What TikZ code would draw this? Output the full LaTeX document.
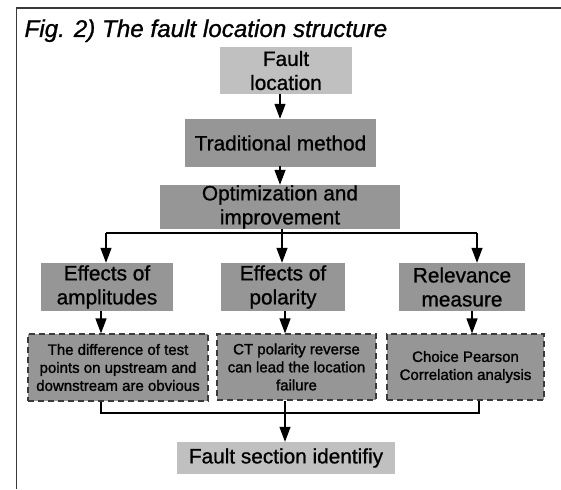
\documentclass[tikz,border=0pt]{standalone}
\usepackage{fontspec}
\setmainfont{Liberation Sans}[FakeBold=0.9]
\newfontfamily\dashfont{Liberation Sans}[FakeBold=1.4]
\newfontfamily\titlefont{Liberation Sans}[FakeBold=1.0]
\usetikzlibrary{arrows.meta}
\definecolor{lgray}{HTML}{C0C0C0}
\definecolor{dgray}{HTML}{969696}
\definecolor{bord}{HTML}{3A3A3A}
\begin{document}
\begin{tikzpicture}[x=1pt,y=-1pt,
  box/.style={rectangle,inner sep=0pt,align=center,font=\fontsize{20.8}{24}\selectfont},
  lbox/.style={box,fill=lgray},
  dbox/.style={box,fill=dgray},
  dashbox/.style={rectangle,inner sep=0pt,align=center,fill=dgray,draw=bord,line width=1.2pt,
     dash pattern=on 6pt off 4pt,font=\dashfont\fontsize{15}{18}\selectfont},
  arr/.style={line width=1.2pt,-{Triangle[length=15pt,width=11pt]}},
  ln/.style={line width=1.2pt}]
\useasboundingbox (0,0) rectangle (561,489);
\fill[white] (0,0) rectangle (561,489);
\draw[line width=1.6pt,draw=bord] (561,8) -- (16.5,8) -- (16.5,489);
\node[anchor=base west,font=\titlefont\itshape\fontsize{24.2}{27}\selectfont] (title) at (21,37) {Fig. 2) The fault location structure};

\node[lbox,minimum width=132pt,minimum height=47pt] (fl) at (286,70.5) {Fault\\location};
\node[dbox,minimum width=191pt,minimum height=48pt] (trad) at (280.5,143) {Traditional method};
\node[dbox,minimum width=240pt,minimum height=44pt] (opt) at (280,207) {Optimization and\\improvement};
\node[dbox,minimum width=132pt,minimum height=48pt] (amp) at (107,287) {Effects of\\amplitudes};
\node[dbox,minimum width=124pt,minimum height=48pt] (pol) at (283,287) {Effects of\\polarity};
\node[dbox,minimum width=126pt,minimum height=48pt] (rel) at (462,287) {Relevance\\measure};
\node[dashbox,minimum width=180pt,minimum height=67pt] (d1) at (118,367.5) {The difference of test\\points on upstream and\\downstream are obvious};
\node[dashbox,minimum width=159pt,minimum height=66pt] (d2) at (296.5,367) {CT polarity reverse\\can lead the location\\failure};
\node[dashbox,minimum width=157pt,minimum height=66pt] (d3) at (465.5,367) {Choice Pearson\\Correlation analysis};
\node[lbox,minimum width=218pt,minimum height=32pt] (fsi) at (286,458) {Fault section identifiy};

\draw[arr] (trad.north -| 280,0) ++(0,-25) coordinate (a1) -- (trad.north -| a1);
\draw[arr] (opt.north -| 280,0) ++(0,-19) coordinate (a2) -- (opt.north -| a2);

\coordinate (busL) at (106,233);
\coordinate (busR) at (477,233);
\draw[ln] (opt.south -| 282,0) -- (282,233);
\draw[ln] (busL) -- (busR);
\draw[arr] (busL) -- (amp.north -| busL);
\draw[arr] (opt.south -| 282,0) -- (pol.north -| 282,0);
\draw[arr] (busR) -- (rel.north -| busR);

\draw[arr] (amp.south -| 101,0) -- (d1.north -| 101,0);
\draw[arr] (pol.south -| 285,0) -- (d2.north -| 285,0);
\draw[arr] (rel.south -| 472,0) -- (d3.north -| 472,0);

\coordinate (bL) at (101,413);
\coordinate (bR) at (479,413);
\draw[ln] (d1.south -| bL) -- (bL) -- (bR) -- (d3.south -| bR);
\draw[arr] (d2.south -| 285,0) -- (fsi.north -| 285,0);
\end{tikzpicture}
\end{document}
